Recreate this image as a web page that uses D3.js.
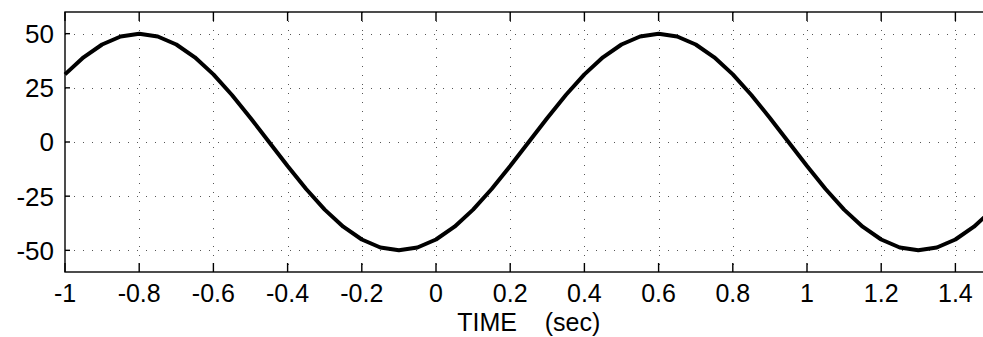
<!DOCTYPE html>
<html>
<head>
<meta charset="utf-8">
<script src="https://cdn.jsdelivr.net/npm/d3@7"></script>
<style>
  html, body { margin: 0; padding: 0; background: #fff; }
  svg { display: block; font-family: "Liberation Sans", Arial, sans-serif; }
</style>
</head>
<body>
<div id="chart"></div>
<script>
const time = [-1.00, -0.95, -0.90, -0.85, -0.80, -0.75, -0.70, -0.65, -0.60, -0.55,
  -0.50, -0.45, -0.40, -0.35, -0.30, -0.25, -0.20, -0.15, -0.10, -0.05,
  0.00, 0.05, 0.10, 0.15, 0.20, 0.25, 0.30, 0.35, 0.40, 0.45,
  0.50, 0.55, 0.60, 0.65, 0.70, 0.75, 0.80, 0.85, 0.90, 0.95,
  1.00, 1.05, 1.10, 1.15, 1.20, 1.25, 1.30, 1.35, 1.40, 1.45, 1.50];
const amplitude = [31.2, 39.1, 45.0, 48.7, 50.0, 48.7, 45.0, 39.1, 31.2, 21.7,
  11.1, 0.0, -11.1, -21.7, -31.2, -39.1, -45.0, -48.7, -50.0, -48.7,
  -45.0, -39.1, -31.2, -21.7, -11.1, 0.0, 11.1, 21.7, 31.2, 39.1,
  45.0, 48.7, 50.0, 48.7, 45.0, 39.1, 31.2, 21.7, 11.1, 0.0,
  -11.1, -21.7, -31.2, -39.1, -45.0, -48.7, -50.0, -48.7, -45.0, -39.1, -31.2];
const xTicks = [-1, -0.8, -0.6, -0.4, -0.2, 0, 0.2, 0.4, 0.6, 0.8, 1, 1.2, 1.4];
const yTicks = [-50, -25, 0, 25, 50];
const xLabel = 'TIME    (sec)';

const width = 983, height = 337;
// the right part of the axes box falls outside the picture
const margin = {top: 12, left: 65, plotWidth: 927.5, plotHeight: 260};

const svg = d3.select('#chart').append('svg')
  .attr('width', width)
  .attr('height', height);

svg.append('rect').attr('width', width).attr('height', height).attr('fill', '#fff');

const x = d3.scaleLinear().domain([-1, 1.5]).range([margin.left, margin.left + margin.plotWidth]);
const y = d3.scaleLinear().domain([-60, 60]).range([margin.top + margin.plotHeight, margin.top]);

const x0 = x.range()[0], x1 = x.range()[1];
const yTop = y.range()[1], yBot = y.range()[0];

// dotted grid
const grid = svg.append('g')
  .attr('stroke', '#555')
  .attr('stroke-width', 1)
  .attr('stroke-dasharray', '1,8')
  .attr('shape-rendering', 'crispEdges');

grid.selectAll('line.gx')
  .data(xTicks.filter(d => d > -1))
  .join('line')
  .attr('class', 'gx')
  .attr('x1', d => Math.round(x(d)) + 0.5).attr('x2', d => Math.round(x(d)) + 0.5)
  .attr('y1', yTop).attr('y2', yBot);

grid.selectAll('line.gy')
  .data(yTicks)
  .join('line')
  .attr('class', 'gy')
  .attr('x1', x0).attr('x2', x1)
  .attr('y1', d => Math.round(y(d)) + 0.5).attr('y2', d => Math.round(y(d)) + 0.5);

// axes box + inward ticks
const axes = svg.append('g')
  .attr('stroke', '#000')
  .attr('stroke-width', 1.4)
  .attr('fill', 'none');

axes.append('rect')
  .attr('x', x0).attr('y', yTop)
  .attr('width', x1 - x0).attr('height', yBot - yTop);

axes.selectAll('line.tb')
  .data(xTicks)
  .join('line')
  .attr('class', 'tb')
  .attr('x1', d => x(d)).attr('x2', d => x(d))
  .attr('y1', yBot).attr('y2', yBot - 9);

axes.selectAll('line.tt')
  .data(xTicks)
  .join('line')
  .attr('class', 'tt')
  .attr('x1', d => x(d)).attr('x2', d => x(d))
  .attr('y1', yTop).attr('y2', yTop + 9);

axes.selectAll('line.tl')
  .data(yTicks)
  .join('line')
  .attr('class', 'tl')
  .attr('x1', x0).attr('x2', x0 + 5)
  .attr('y1', d => y(d)).attr('y2', d => y(d));

// signal
const line = d3.line()
  .x((d, i) => x(time[i]))
  .y(d => y(d));

svg.append('path')
  .datum(amplitude)
  .attr('d', line)
  .attr('fill', 'none')
  .attr('stroke', '#000')
  .attr('stroke-width', 4)
  .attr('stroke-linejoin', 'round');

// tick labels
svg.append('g')
  .attr('font-size', 26)
  .attr('text-anchor', 'end')
  .selectAll('text')
  .data(yTicks)
  .join('text')
  .attr('x', x0 - 11)
  .attr('y', d => y(d))
  .attr('dy', '0.36em')
  .text(d => d);

svg.append('g')
  .attr('font-size', 25)
  .attr('text-anchor', 'middle')
  .selectAll('text')
  .data(xTicks)
  .join('text')
  .attr('x', d => x(d))
  .attr('y', 302)
  .text(d => d);

svg.append('text')
  .attr('x', (x0 + x1) / 2)
  .attr('y', 331)
  .attr('font-size', 25)
  .attr('text-anchor', 'middle')
  .style('white-space', 'pre')
  .text(xLabel);
</script>
</body>
</html>
